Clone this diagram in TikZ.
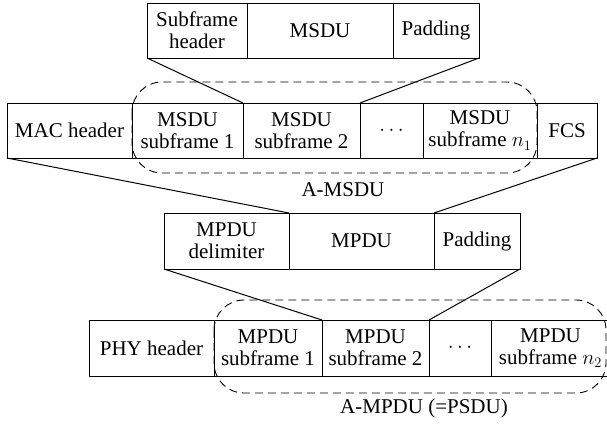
\documentclass[tikz,border=0pt]{standalone}
\usepackage{fontspec}
\setmainfont{Liberation Serif}

\begin{document}
\begin{tikzpicture}[x=1pt, y=-1pt, line join = round,
    cell/.style={draw, line width=1pt, inner sep=0pt, outer sep=0pt, align=center,
        minimum height=55pt, font=\fontsize{21}{22}\selectfont},
    group/.style={dash pattern=on 8pt off 5pt, line width=0.9pt, rounded corners=30pt},
    caption/.style={inner sep=0pt, font=\fontsize{21}{22}\selectfont}]
    \useasboundingbox (0,0) rectangle (607,426);

    % MSDU subframe
    \node[cell, minimum width=100pt] (sfh)  at (197,30.5) {Subframe\\header};
    \node[cell, minimum width=146pt] (msdu) at (320,30.5) {MSDU};
    \node[cell, minimum width=86pt]  (padA) at (436,30.5) {Padding};

    % MPDU with A-MSDU
    \node[cell, minimum width=125pt] (mac)   at (69.5,130.5)  {MAC header};
    \node[cell, minimum width=111pt] (msfA)  at (187.5,130.5) {MSDU\\subframe 1};
    \node[cell, minimum width=117pt] (msfB)  at (301.5,130.5) {MSDU\\subframe 2};
    \node[cell, minimum width=63pt]  (mdots) at (391.5,130.5) {$\cdots$};
    \node[cell, minimum width=114pt] (msfN)  at (480,130.5)   {MSDU\\subframe $n_1$};
    \node[cell, minimum width=60pt]  (fcs)   at (567,130.5)   {FCS};

    % MPDU subframe
    \node[cell, minimum width=125pt, minimum height=56pt] (delim) at (226.5,241) {MPDU\\delimiter};
    \node[cell, minimum width=145pt, minimum height=56pt] (mpdu)  at (361.5,241) {MPDU};
    \node[cell, minimum width=86pt,  minimum height=56pt] (padB)  at (477,241)   {Padding};

    % PPDU with A-MPDU
    \node[cell, minimum width=125pt, minimum height=56pt] (phy)   at (151.5,348) {PHY header};
    \node[cell, minimum width=108pt, minimum height=56pt] (psfA)  at (268,348)   {MPDU\\subframe 1};
    \node[cell, minimum width=107pt, minimum height=56pt] (psfB)  at (375.5,348) {MPDU\\subframe 2};
    \node[cell, minimum width=62pt,  minimum height=56pt] (pdots) at (460,348)   {$\cdots$};
    \node[cell, minimum width=119pt, minimum height=56pt] (psfN)  at (550.5,348) {MPDU\\subframe $n_2$};

    % aggregates
    \draw[group] ([yshift=21pt]msfA.north west) rectangle ([yshift=-15pt]msfN.south east);
    \node[caption] (amsdu) at (343,190) {A-MSDU};
    \draw[group] ([yshift=20pt]psfA.north west) rectangle ([xshift=-4pt,yshift=-17pt]psfN.south east);
    \node[caption] (ampdu) at (424,408) {A-MPDU (=PSDU)};

    % expansions
    \draw[line width=1pt] (sfh.south west) -- (msfB.north west);
    \draw[line width=1pt] (padA.south east) -- (mdots.north west);
    \draw[line width=1pt] (mac.south west) -- (mpdu.north west);
    \draw[line width=1pt] (fcs.south east) -- (padB.north west);
    \draw[line width=1pt] (delim.south west) -- (psfB.north west);
    \draw[line width=1pt] (padB.south east) -- (pdots.north west);
\end{tikzpicture}
\end{document}
